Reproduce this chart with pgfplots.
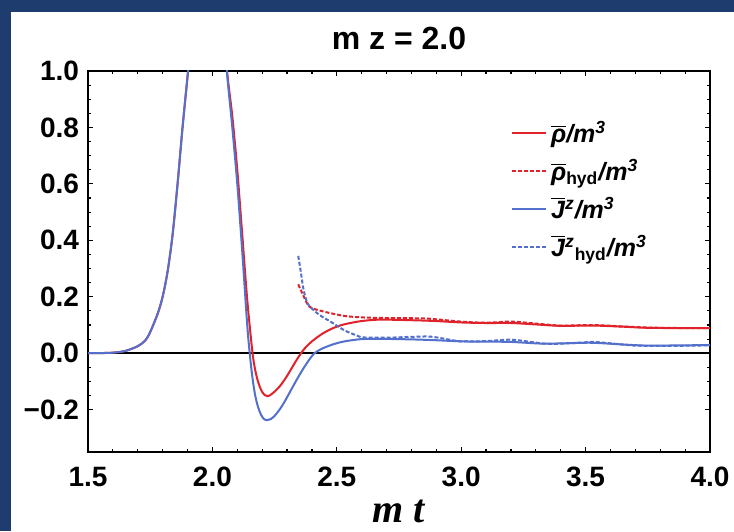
\documentclass[border=0pt]{standalone}
\usepackage{pgfplots}
\pgfplotsset{compat=1.18}
\usepackage{fontspec}
\setmainfont{Liberation Sans}
\newfontfamily\timesfont{Liberation Serif}
\definecolor{navyframe}{HTML}{1F3C6E}
\definecolor{curvered}{HTML}{E2222B}
\definecolor{curveblue}{HTML}{5270CC}

\begin{document}
\begin{tikzpicture}
% page: 734x531 px at 0.5pt per px, axis box at (0,0)
\path[use as bounding box] (-44pt,-39.5pt) rectangle (323pt,226pt);
\fill[navyframe] (-44pt,-39.5pt) rectangle (323pt,226pt);
\fill[white] (-38.5pt,-39.5pt) rectangle (323pt,220pt);
\begin{axis}[
    scale only axis,
    width=311pt,
    height=190.5pt,
    xmin=1.5, xmax=4.0,
    ymin=-0.35, ymax=1.0,
    xtick={1.5,2.0,2.5,3.0,3.5,4.0},
    xticklabels={1.5,2.0,2.5,3.0,3.5,4.0},
    ytick={-0.2,0,0.2,0.4,0.6,0.8,1.0},
    yticklabels={−0.2,0.0,0.2,0.4,0.6,0.8,1.0},
    minor x tick num=4,
    minor y tick num=3,
    major tick length=2.5pt,
    minor tick length=1.5pt,
    tick style={black, line width=0.6pt},
    axis line style={black, line width=0.8pt},
    ticklabel style={font=\bfseries\fontsize{14}{14}\selectfont},
    xticklabel style={yshift=-4pt},
    yticklabel style={xshift=-1pt},
    title={\bfseries\fontsize{16}{16}\selectfont m z = 2.0},
    title style={at={(0.5,1)}, anchor=base, yshift=4.5pt},
    xlabel={\timesfont\bfseries\itshape\fontsize{20}{20}\selectfont m t},
    xlabel style={at={(0.5,0)}, anchor=base, yshift=-35pt},
    legend style={draw=none, fill=none, at={(0.67,0.89)}, anchor=north west,
        font=\fontsize{12.5}{14}\selectfont, row sep=3pt},
    legend cell align=left,
    legend image code/.code={\draw[#1] (0pt,0pt) -- (17pt,0pt);},
]
% zero line
\addplot[black, line width=1pt, forget plot] coordinates {(1.5,0)(4.0,0)};
% rho / m^3
\addplot[curvered, line width=1pt, smooth, tension=0.5] coordinates {
(1.5,0)(1.55,0.0005)(1.6,0.002)(1.65,0.008)(1.7,0.025)(1.73,0.045)(1.75,0.075)
(1.78,0.14)(1.8,0.2)(1.82,0.29)(1.84,0.42)(1.86,0.6)(1.88,0.8)(1.9,0.98)
(1.92,1.16)(1.95,1.4)(1.98,1.55)(2.0,1.55)(2.02,1.42)(2.04,1.2)(2.06,0.99)
(2.08,0.84)(2.1,0.65)(2.12,0.42)(2.14,0.19)(2.16,0.01)(2.17,-0.05)(2.18,-0.09)
(2.19,-0.118)(2.2,-0.137)(2.21,-0.148)(2.22,-0.152)(2.23,-0.15)(2.25,-0.136)
(2.27,-0.118)(2.29,-0.094)(2.31,-0.066)(2.33,-0.036)(2.35,-0.008)(2.37,0.016)
(2.4,0.042)(2.44,0.068)(2.48,0.087)(2.52,0.1)(2.56,0.108)(2.6,0.114)(2.67,0.119)
(2.8,0.117)(2.9,0.114)(3.0,0.109)(3.1,0.107)(3.2,0.107)(3.3,0.102)(3.4,0.097)
(3.53,0.098)(3.65,0.094)(3.75,0.09)(3.9,0.089)(4.0,0.089)
};
% rho_hyd / m^3
\addplot[curvered, line width=1pt, dash pattern=on 2pt off 1pt, smooth, tension=0.5] coordinates {
(2.345,0.244)(2.36,0.215)(2.379,0.179)(2.39,0.165)(2.405,0.158)(2.45,0.147)
(2.5,0.137)(2.54,0.131)(2.6,0.127)(2.674,0.125)(2.8,0.124)(2.875,0.122)
(3.0,0.112)(3.1,0.108)(3.2,0.112)(3.3,0.105)(3.4,0.098)(3.53,0.1)(3.65,0.095)
(3.8,0.09)(4.0,0.089)
};
% J^z / m^3
\addplot[curveblue, line width=1pt, smooth, tension=0.5] coordinates {
(1.5,0)(1.55,0.0005)(1.6,0.002)(1.65,0.008)(1.7,0.025)(1.73,0.045)(1.75,0.075)
(1.78,0.14)(1.8,0.2)(1.82,0.29)(1.84,0.42)(1.86,0.6)(1.88,0.8)(1.9,0.98)
(1.92,1.16)(1.95,1.4)(1.98,1.55)(2.0,1.55)(2.02,1.42)(2.04,1.2)(2.06,0.98)
(2.08,0.8)(2.1,0.6)(2.12,0.36)(2.14,0.1)(2.15,0.0)(2.16,-0.08)(2.17,-0.14)
(2.18,-0.18)(2.19,-0.207)(2.2,-0.225)(2.21,-0.235)(2.218,-0.237)(2.235,-0.233)
(2.25,-0.222)(2.27,-0.2)(2.29,-0.172)(2.31,-0.14)(2.33,-0.108)(2.35,-0.077)
(2.37,-0.048)(2.39,-0.022)(2.41,0)(2.44,0.016)(2.48,0.03)(2.52,0.04)(2.56,0.046)
(2.6,0.05)(2.67,0.051)(2.8,0.049)(2.9,0.046)(3.0,0.042)(3.1,0.041)(3.2,0.04)
(3.33,0.034)(3.45,0.036)(3.53,0.037)(3.65,0.031)(3.75,0.027)(3.9,0.028)(4.0,0.029)
};
% J^z_hyd / m^3
\addplot[curveblue, line width=1pt, dash pattern=on 2pt off 1pt, smooth, tension=0.5] coordinates {
(2.345,0.345)(2.355,0.29)(2.365,0.232)(2.375,0.195)(2.385,0.173)(2.41,0.15)
(2.44,0.13)(2.473,0.113)(2.51,0.092)(2.54,0.077)(2.58,0.063)(2.607,0.056)
(2.7,0.055)(2.74,0.056)(2.8,0.058)(2.875,0.059)(2.94,0.05)(3.0,0.042)
(3.1,0.043)(3.2,0.048)(3.28,0.04)(3.35,0.033)(3.45,0.036)(3.53,0.04)
(3.6,0.035)(3.7,0.027)(3.85,0.026)(4.0,0.028)
};
\legend{
  {\bfseries\itshape $\overline{\hbox{ρ}}$/m\textsuperscript{3}},
  {\bfseries{\itshape $\overline{\hbox{ρ}}$}\textsubscript{hyd}\itshape/m\textsuperscript{3}},
  {\bfseries\itshape $\overline{\hbox{J}}$\textsuperscript{z}/m\textsuperscript{3}},
  {\bfseries{\itshape $\overline{\hbox{J}}$\textsuperscript{z}}\textsubscript{hyd}\itshape/m\textsuperscript{3}}
}
\end{axis}
\end{tikzpicture}
\end{document}
